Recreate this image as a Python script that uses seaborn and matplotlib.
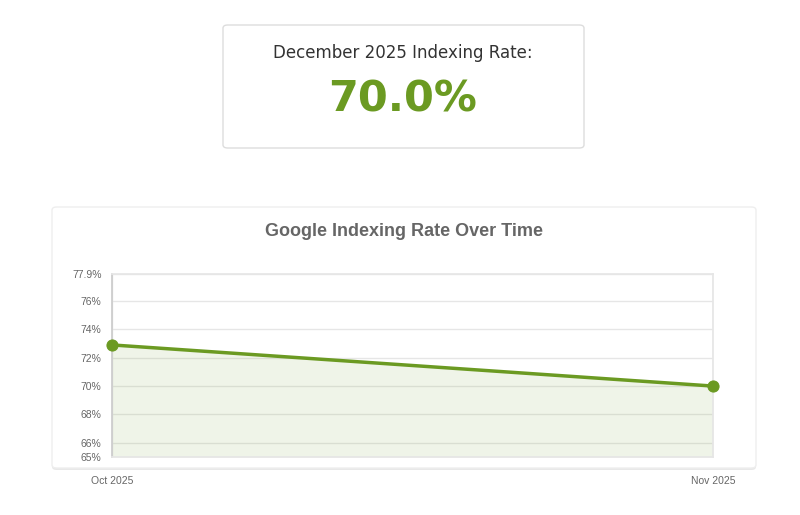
import matplotlib
matplotlib.use('Agg')
import matplotlib.pyplot as plt
import seaborn as sns
import pandas as pd
from matplotlib.patches import FancyBboxPatch

months = ['Oct 2025', 'Nov 2025']
rates = [72.9, 70.0]
y_ticks = [65, 66, 68, 70, 72, 74, 76, 77.9]
y_labels = ['65%', '66%', '68%', '70%', '72%', '74%', '76%', '77.9%']
headline = 'December 2025 Indexing Rate:'
headline_value = '70.0%'

green = '#6b9a22'
sns.set_theme(style='white')
plt.rcParams['font.family'] = ['DejaVu Sans']

W, H = 800, 515
fig = plt.figure(figsize=(W / 100, H / 100), dpi=100)

def px(x, y, w, h):
    return [x / W, 1 - (y + h) / H, w / W, h / H]

# cards
def card(x, y, w, h, shadow=False):
    if shadow:
        fig.patches.append(FancyBboxPatch((x / W, 1 - (y + h + 2) / H), w / W, h / H,
                                          boxstyle='round,pad=0,rounding_size=0.006',
                                          transform=fig.transFigure, facecolor='#e8e8e8',
                                          edgecolor='none', zorder=0))
    fig.patches.append(FancyBboxPatch((x / W, 1 - (y + h) / H), w / W, h / H,
                                      boxstyle='round,pad=0,rounding_size=0.006',
                                      transform=fig.transFigure, facecolor='white',
                                      edgecolor='#dddddd' if not shadow else '#eeeeee',
                                      lw=1, zorder=0.5))

card(223, 25, 361, 123)
card(52, 207, 704, 261, shadow=True)

fig.text(403 / W, 1 - 53 / H, headline, ha='center', va='center', fontsize=12, color='#333333')
fig.text(403 / W, 1 - 100 / H, headline_value, ha='center', va='center', fontsize=31,
         fontweight='bold', color=green)
fig.text(404 / W, 1 - 232 / H, 'Google Indexing Rate Over Time', ha='center', va='center',
         fontsize=13, fontweight='bold', color='#666666', family='Liberation Sans')

ax = fig.add_axes(px(112, 274, 601, 183))
ax.set_zorder(2)
df = pd.DataFrame({'x': range(len(months)), 'rate': rates})
ax.fill_between(df['x'], df['rate'], 65, color=green, alpha=0.1, lw=0)
sns.lineplot(data=df, x='x', y='rate', ax=ax, color=green, lw=2.5, marker='o',
             markersize=8, markeredgecolor=green, clip_on=False, zorder=5)
ax.set_xlim(0, len(months) - 1)
ax.set_ylim(65, 77.9)
ax.set_yticks(y_ticks)
ax.set_yticklabels(y_labels)
ax.set_xticks(range(len(months)))
ax.set_xticklabels(months)
ax.set_xlabel('')
ax.set_ylabel('')
ax.grid(axis='y', color='#e6e6e6', lw=1)
ax.grid(axis='x', color='#e6e6e6', lw=1)
for s in ax.spines.values():
    s.set_color('#e6e6e6')
ax.spines['left'].set_color('#cccccc')
ax.tick_params(axis='both', labelsize=7.5, colors='#666666', length=4, color='#cccccc')
ax.tick_params(axis='x', pad=10)
ax.set_facecolor('none')
for lab in ax.get_xticklabels() + ax.get_yticklabels():
    lab.set_family('Liberation Sans')
    lab.set_color('#666666')

fig.savefig('out.png', dpi=100)
